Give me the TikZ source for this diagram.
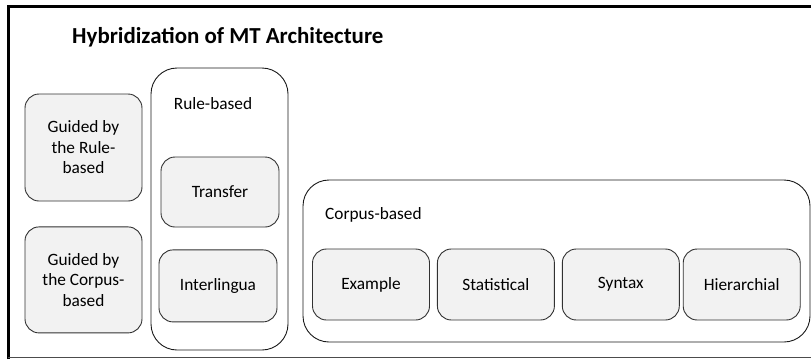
\documentclass[tikz,border=0pt]{standalone}
\usepackage{fontspec}
\setmainfont{Carlito}
\usetikzlibrary{positioning}
\definecolor{boxfill}{RGB}{242,242,242}
\definecolor{boxline}{RGB}{50,50,50}

\begin{document}
\begin{tikzpicture}[x=1pt, y=-1pt,
	method/.style={draw=boxline, line width=0.9pt, fill=boxfill, rounded corners=14pt, align=center,
		minimum width=117pt, minimum height=71pt, inner sep=0pt,
		font=\fontsize{17.3}{20.5}\selectfont},
	family/.style={draw=black!90, line width=0.9pt, rounded corners=26pt, inner sep=0pt},
	familyname/.style={font=\fontsize{17.3}{20.5}\selectfont, inner sep=0pt}]
	\useasboundingbox (0,0) rectangle (811,359);

	% frame
	\draw[line width=3pt] (8,359) -- (8,6.5) -- (811,6.5);
	\draw[black!70, line width=1.2pt] (8,357.5) -- (811,357.5);

	\node[anchor=west, inner sep=0pt, font=\fontsize{22.9}{26}\bfseries] (title) at (72,37) {Hybridization of MT Architecture};

	% hybrid approaches
	\node[method, minimum height=107pt] (gr) at (83.5,147.5) {Guided by\\the Rule-\\based};
	\node[method, minimum height=106pt, below=25pt of gr] (gc) {Guided by\\the Corpus-\\based};

	% rule-based
	\node[family, minimum width=137pt, minimum height=282pt] (rb) at (219.5,209) {};
	\node[familyname] (rbname) at (213,104) {Rule-based};
	\node[method, minimum width=118pt, minimum height=70pt] (tr) at (220,192) {Transfer};
	\node[method, minimum width=118pt, minimum height=72pt, below=22pt of tr, xshift=-2pt] (il) {Interlingua};

	% corpus-based
	\node[family, minimum width=507pt, minimum height=162pt] (cb) at (556.5,261) {};
	\node[familyname, anchor=west] (cbname) at (325,215) {Corpus-based};
	\node[method] (ex) at (371,284.5) {Example};
	\node[method, right=7pt of ex] (st) {Statistical};
	\node[method, right=7pt of st] (sy) {Syntax};
	\node[method, right=3pt of sy] (hi) {Hierarchial};
\end{tikzpicture}
\end{document}
